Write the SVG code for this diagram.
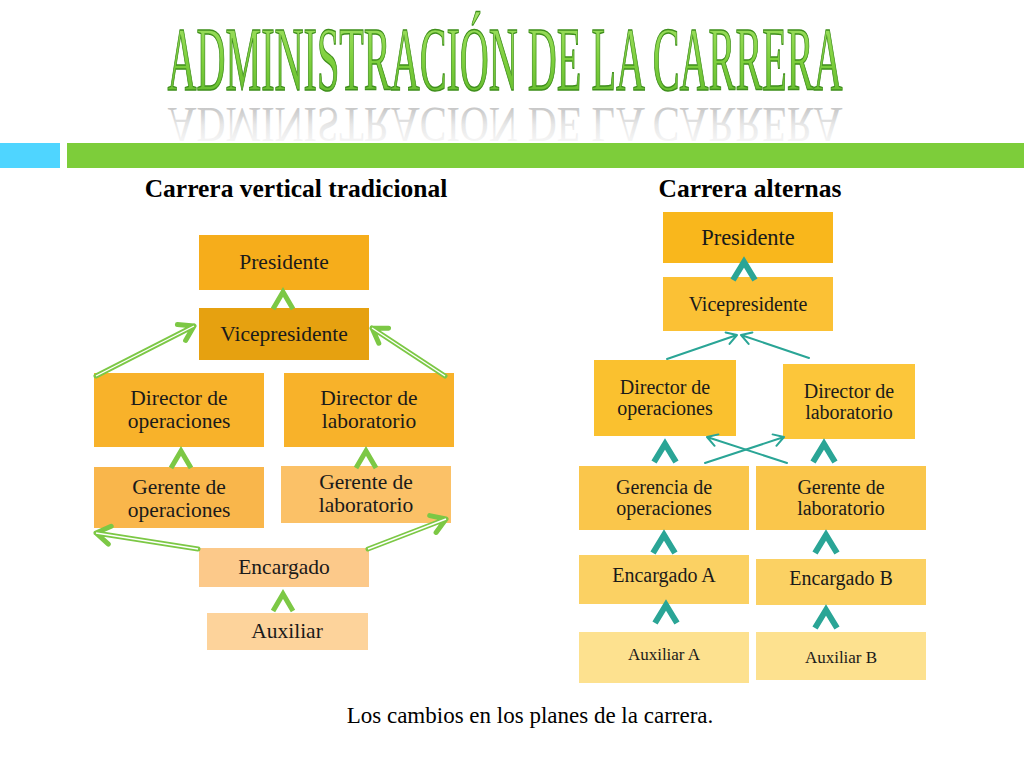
<svg xmlns="http://www.w3.org/2000/svg" xmlns:xlink="http://www.w3.org/1999/xlink" width="1024" height="768" viewBox="0 0 1024 768">
<defs>
<linearGradient id="tg" x1="0" y1="0" x2="0" y2="1">
<stop offset="0" stop-color="#a8e46c"/>
<stop offset="0.5" stop-color="#7fd03e"/>
<stop offset="1" stop-color="#5cb52a"/>
</linearGradient>
<linearGradient id="rg" x1="0" y1="0" x2="0" y2="1">
<stop offset="0" stop-color="#ffffff"/>
<stop offset="0.5" stop-color="#e0e0e0"/>
<stop offset="1" stop-color="#9a9a9a"/>
</linearGradient>
<text id="title" x="505" y="90" text-anchor="middle" font-family="Liberation Serif, serif" font-size="92" textLength="675" lengthAdjust="spacingAndGlyphs">ADMINISTRACIÓN DE LA CARRERA</text>
<path id="gch" d="M -10 17 L 0 0 L 10 17"/>
<path id="tch" d="M -11 18 L 0 0 L 11 18"/>
</defs>
<style>
.box text{font-family:"Liberation Serif",serif;fill:#1a1a1a;text-anchor:middle}
.l{font-size:21.5px}
.m{font-size:20px}
.gch{fill:none;stroke:#7cc845;stroke-width:5}
.tch{fill:none;stroke:#2aa596;stroke-width:6}
.dbl{fill:none;stroke:#7cc845;stroke-width:5;stroke-linecap:round;stroke-linejoin:round}
.dblw{fill:none;stroke:#ffffff;stroke-width:1.4}
.tl{fill:none;stroke:#2aa596;stroke-width:2;stroke-linecap:round;stroke-linejoin:round}
.hd{font-family:"Liberation Serif",serif;font-weight:bold;font-size:25.5px;fill:#000;text-anchor:middle}
</style>
<rect width="1024" height="768" fill="#ffffff"/>
<!-- header -->
<g id="header">
<use xlink:href="#title" fill="url(#tg)" stroke="#3f8f1c" stroke-width="1.5"/>
<use xlink:href="#title" fill="url(#rg)" opacity="0.75" transform="matrix(1 0 0 -0.55 0 157.5)"/>
<rect x="0" y="143" width="60" height="25" fill="#4fd5ff"/>
<rect x="67" y="143" width="957" height="25" fill="#7dcd3a"/>
</g>
<text class="hd" x="296" y="197">Carrera vertical tradicional</text>
<text class="hd" x="750" y="197">Carrera alternas</text>
<!-- left nodes -->
<g class="box">
<g id="l-pres"><rect x="199" y="235" width="170" height="55" fill="#f6ad1b"/><text class="l" x="284" y="269">Presidente</text></g>
<g id="l-vice"><rect x="199" y="308" width="170" height="52" fill="#e6a110"/><text class="l" x="284" y="341">Vicepresidente</text></g>
<g id="l-dirop"><rect x="94" y="373" width="170" height="74" fill="#f8b22a"/><text class="l" x="179" y="405">Director de</text><text class="l" x="179" y="428">operaciones</text></g>
<g id="l-dirlab"><rect x="284" y="373" width="170" height="74" fill="#f8b22a"/><text class="l" x="369" y="405">Director de</text><text class="l" x="369" y="428">laboratorio</text></g>
<g id="l-gerop"><rect x="94" y="467" width="170" height="61" fill="#f9b64b"/><text class="l" x="179" y="494">Gerente de</text><text class="l" x="179" y="517">operaciones</text></g>
<g id="l-gerlab"><rect x="281" y="466" width="170" height="57" fill="#fbc167"/><text class="l" x="366" y="489">Gerente de</text><text class="l" x="366" y="512">laboratorio</text></g>
<g id="l-enc"><rect x="199" y="548" width="170" height="39" fill="#fcc98a"/><text class="l" x="284" y="574">Encargado</text></g>
<g id="l-aux"><rect x="207" y="613" width="161" height="37" fill="#fdd39b"/><text class="l" x="287" y="638">Auxiliar</text></g>
</g>
<!-- right nodes -->
<g class="box">
<g id="r-pres"><rect x="663" y="212" width="170" height="51" fill="#f9b71c"/><text x="748" y="245" font-size="22.5">Presidente</text></g>
<g id="r-vice"><rect x="663" y="277" width="170" height="54" fill="#fbc135"/><text class="m" x="748" y="311">Vicepresidente</text></g>
<g id="r-dirop"><rect x="594" y="360" width="142" height="76" fill="#fac12f"/><text class="m" x="665" y="394">Director de</text><text class="m" x="665" y="415">operaciones</text></g>
<g id="r-dirlab"><rect x="783" y="364" width="132" height="75" fill="#fcc63a"/><text class="m" x="849" y="398">Director de</text><text class="m" x="849" y="419">laboratorio</text></g>
<g id="r-gerop"><rect x="579" y="466" width="170" height="64" fill="#fac64b"/><text class="m" x="664" y="494">Gerencia de</text><text class="m" x="664" y="515">operaciones</text></g>
<g id="r-gerlab"><rect x="756" y="466" width="170" height="64" fill="#fac64b"/><text class="m" x="841" y="494">Gerente de</text><text class="m" x="841" y="515">laboratorio</text></g>
<g id="r-encA"><rect x="579" y="555" width="170" height="49" fill="#fbd163"/><text class="m" x="664" y="582">Encargado A</text></g>
<g id="r-encB"><rect x="756" y="559" width="170" height="46" fill="#fbd163"/><text class="m" x="841" y="585">Encargado B</text></g>
<g id="r-auxA"><rect x="579" y="632" width="170" height="51" fill="#fde18f"/><text x="664" y="660" font-size="17">Auxiliar A</text></g>
<g id="r-auxB"><rect x="756" y="632" width="170" height="48" fill="#fde18f"/><text x="841" y="663" font-size="17">Auxiliar B</text></g>
</g>
<!-- connectors -->
<g id="connectors">
<use xlink:href="#gch" class="gch" transform="translate(283,292)"/>
<use xlink:href="#gch" class="gch" transform="translate(181,451)"/>
<use xlink:href="#gch" class="gch" transform="translate(366,451)"/>
<use xlink:href="#gch" class="gch" transform="translate(283,594)"/>
<g>
<path class="dbl" d="M96 376 L194 326 M185.6 340.4 L194 326 L177.4 324.4"/>
<path class="dblw" d="M96 376 L194 326"/>
<path class="dbl" d="M445 376 L372 328 M388.6 328.2 L372 328 L378.8 343.2"/>
<path class="dblw" d="M445 376 L372 328"/>
<path class="dbl" d="M198 549 L96 533 M111.2 526.3 L96 533 L108.4 544.1"/>
<path class="dblw" d="M198 549 L96 533"/>
<path class="dbl" d="M368 549 L446 519 M436.1 532.4 L446 519 L429.7 515.6"/>
<path class="dblw" d="M368 549 L446 519"/>
</g>
<use xlink:href="#tch" class="tch" transform="translate(744,262)"/>
<use xlink:href="#tch" class="tch" transform="translate(665,444)"/>
<use xlink:href="#tch" class="tch" transform="translate(824,444)"/>
<use xlink:href="#tch" class="tch" transform="translate(664,535)"/>
<use xlink:href="#tch" class="tch" transform="translate(826,535)"/>
<use xlink:href="#tch" class="tch" transform="translate(666,605)"/>
<use xlink:href="#tch" class="tch" transform="translate(826,610)"/>
<path class="tl" d="M667 359 L737 335 M729.5 343.9 L737 335 L725.6 332.5"/>
<path class="tl" d="M809 358 L741 335 M752.4 332.5 L741 335 L748.6 343.9"/>
<path class="tl" d="M705 463 L784 437 M776.4 445.8 L784 437 L772.6 434.4"/>
<path class="tl" d="M787 463 L707 437 M718.4 434.4 L707 437 L714.6 445.8"/>
</g>
<text x="530" y="723" font-family="Liberation Serif, serif" font-size="23" text-anchor="middle" fill="#000">Los cambios en los planes de la carrera.</text>
</svg>
